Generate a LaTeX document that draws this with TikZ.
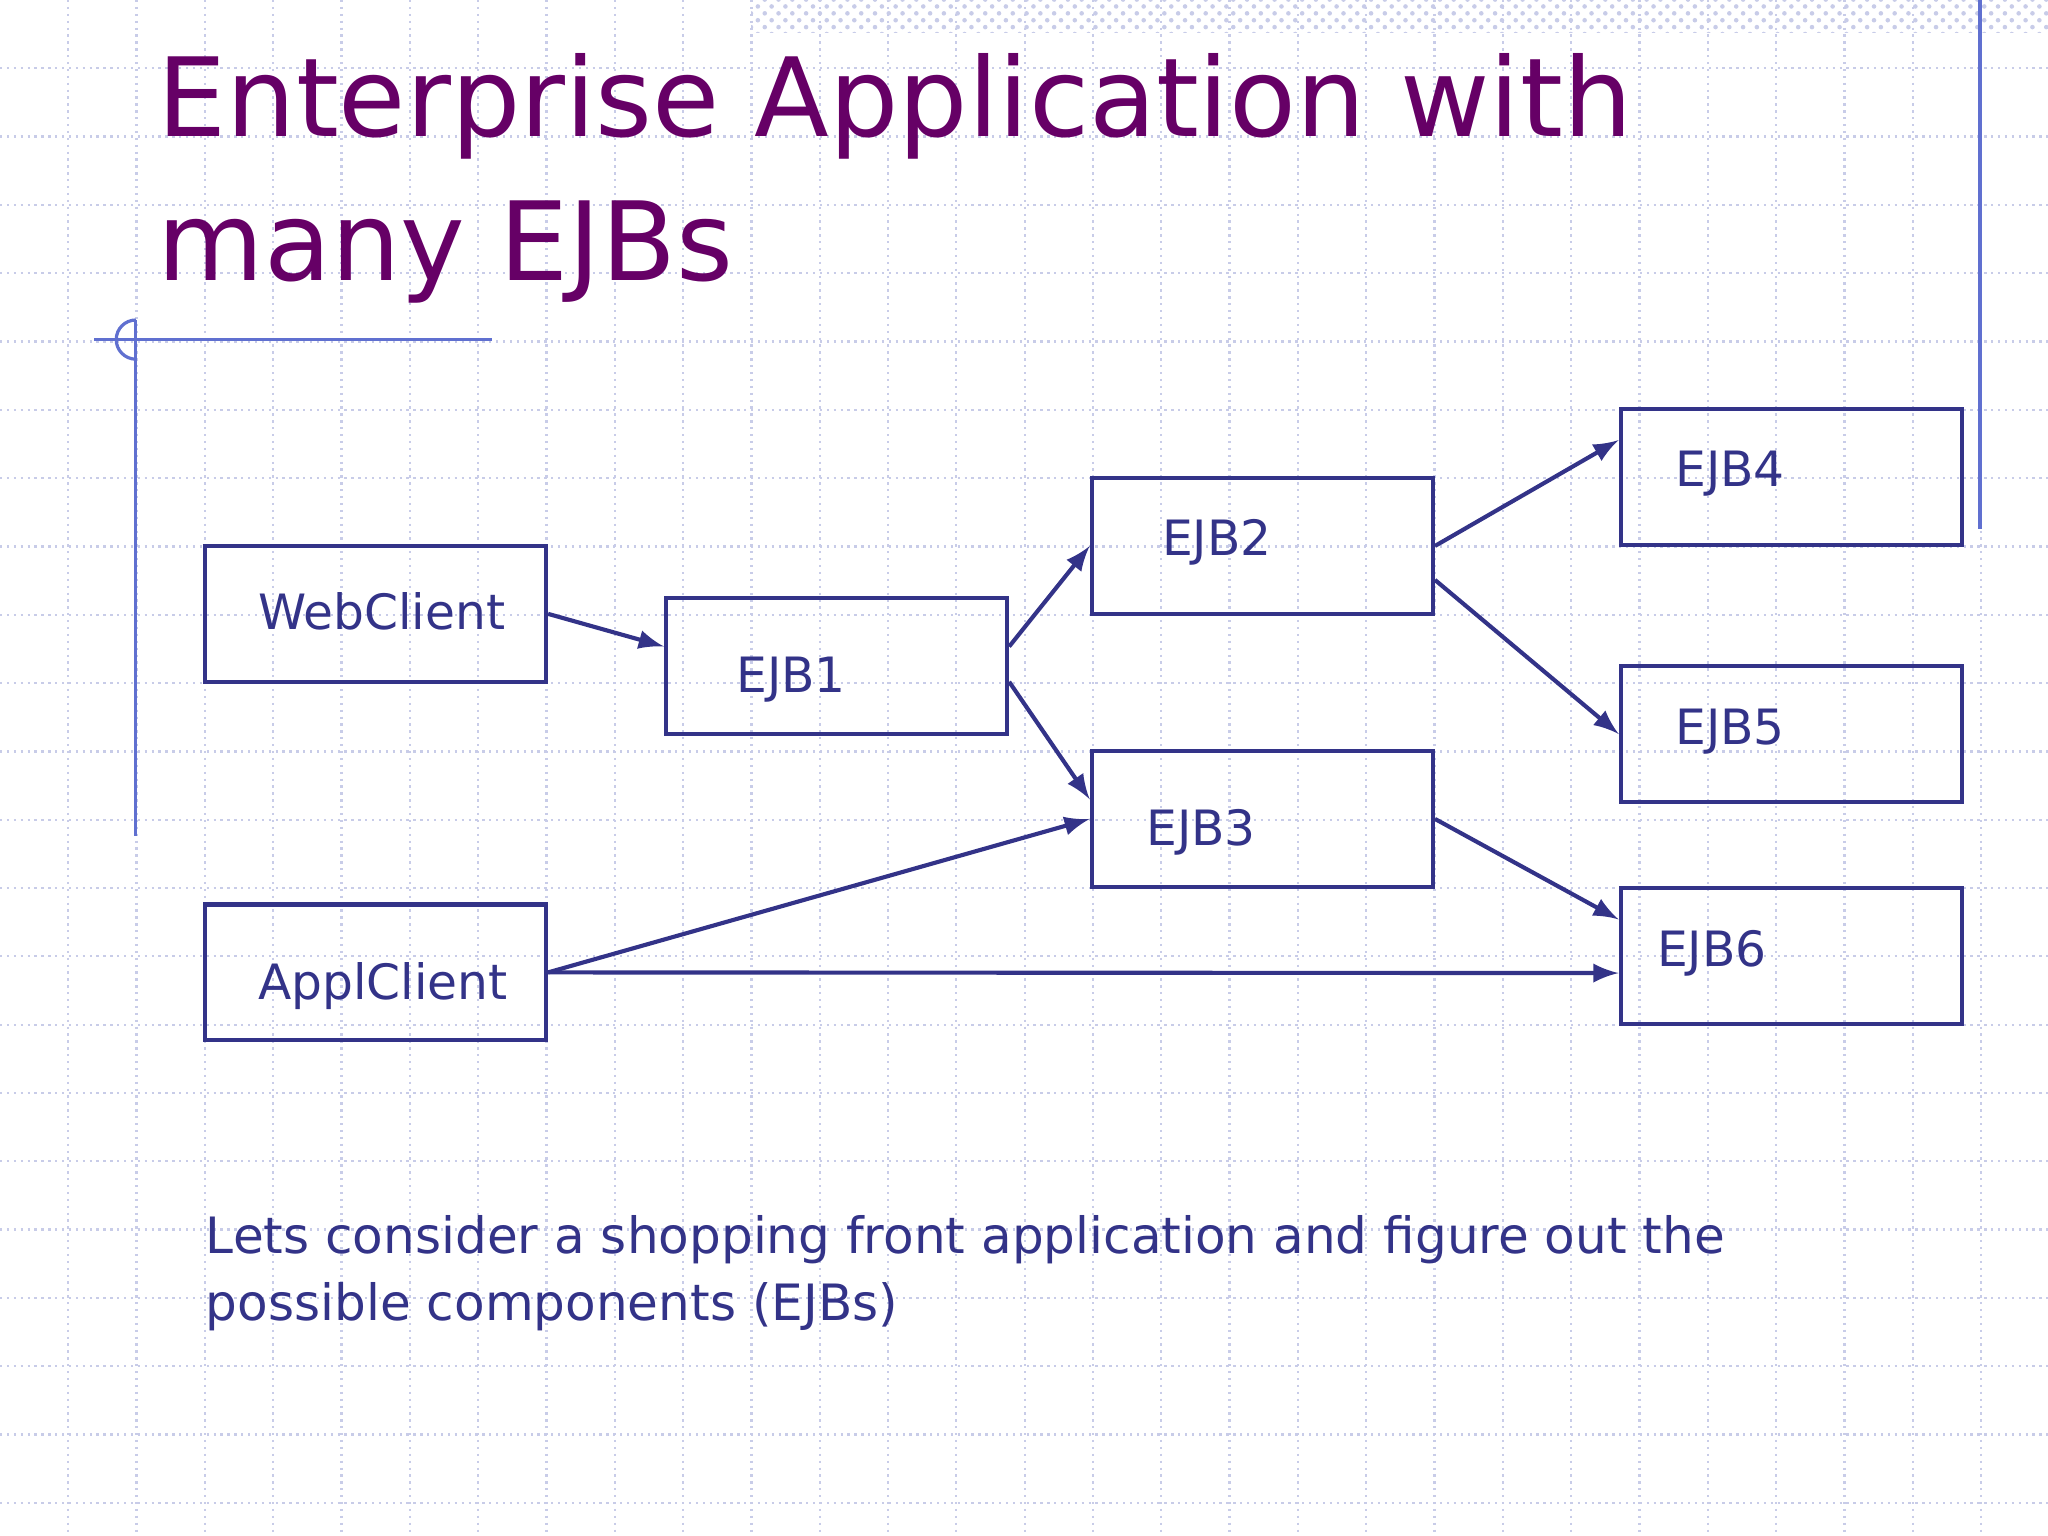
\documentclass[tikz,border=0pt]{standalone}
\usepackage{fontspec}
\setmainfont{DejaVu Sans}
\usetikzlibrary{patterns}
\definecolor{titlepurple}{HTML}{660066}
\definecolor{ink}{HTML}{333388}
\definecolor{gridblue}{HTML}{C8CCE8}
\definecolor{rule}{HTML}{6070D0}
\tikzset{
  box/.style={draw=ink,line width=0.9pt,minimum width=2.61cm,minimum height=1.04cm,inner sep=0pt},
  lbl/.style={text=ink,font=\fontsize{10.6}{12}\selectfont,anchor=west,inner sep=0pt},
  link/.style={draw=ink,line width=0.9pt,-latex}
}
\begin{document}
\begin{tikzpicture}[x=0.01cm,y=-0.01cm]
			\useasboundingbox (0,0) rectangle (1568,1176);
			% background grid
			\foreach \i in {1,...,29}
				\draw[gridblue,densely dotted,line width=0.5pt] (\i*52.3,0) -- (\i*52.3,1176);
			\foreach \j in {1,...,22}
				\draw[gridblue,densely dotted,line width=0.5pt] (0,\j*52.3) -- (1568,\j*52.3);
			\fill[pattern=crosshatch dots,pattern color=gridblue] (575,0) rectangle (1568,25);
			% slide decorations
			\draw[rule,line width=0.7pt] (1516,0) -- (1516,405);
			\draw[rule,line width=0.7pt] (72,260) -- (377,260);
			\draw[rule,line width=0.7pt] (104,245) -- (104,640);
			\draw[rule,line width=0.7pt] (104,245) arc (-90:-270:15);
			% title
			\node[text=titlepurple,anchor=north west,align=left,inner sep=0pt,font=\fontsize{23.8}{31.5}\selectfont] (title) at (120,40) {Enterprise Application with\\many EJBs};
			% boxes
			\node[box] (web) at (287.5,470) {};
			\node[box] (appl) at (287.5,744.5) {};
			\node[box] (ejb1) at (640.5,510) {};
			\node[box] (ejb2) at (966.5,418) {};
			\node[box] (ejb3) at (966.5,627) {};
			\node[box] (ejb4) at (1371.5,365.5) {};
			\node[box] (ejb5) at (1371.5,562) {};
			\node[box] (ejb6) at (1371.5,732) {};
			% labels
			\node[lbl] (tweb) at (197,468) {WebClient};
			\node[lbl] (tappl) at (197,755) {ApplClient};
			\node[lbl] (t1) at (563,520) {EJB1};
			\node[lbl] (t2) at (889,415) {EJB2};
			\node[lbl] (t3) at (877,637) {EJB3};
			\node[lbl] (t4) at (1282,363) {EJB4};
			\node[lbl] (t5) at (1282,560) {EJB5};
			\node[lbl] (t6) at (1268,730) {EJB6};
			% connectors
			\draw[link] (web.east) -- ([yshift=0.15cm]ejb1.west);
			\draw[link] ([yshift=0.15cm]ejb1.east) -- (ejb2.west);
			\draw[link] ([yshift=-0.12cm]ejb1.east) -- ([yshift=0.15cm]ejb3.west);
			\draw[link] (ejb2.east) -- ([yshift=-0.25cm]ejb4.north west);
			\draw[link] ([yshift=-0.26cm]ejb2.east) -- (ejb5.west);
			\draw[link] (ejb3.east) -- ([yshift=0.28cm]ejb6.west);
			\draw[link] (appl.east) -- (ejb3.west);
			\draw[link] (appl.east) -- ([yshift=-0.13cm]ejb6.west);
			% caption
			\node[text=ink,anchor=north west,align=left,inner sep=0pt,font=\fontsize{10.9}{14.6}\selectfont] (note) at (157,930) {Lets consider a shopping front application and figure out the\\possible components (EJBs)};
		\end{tikzpicture}
\end{document}
